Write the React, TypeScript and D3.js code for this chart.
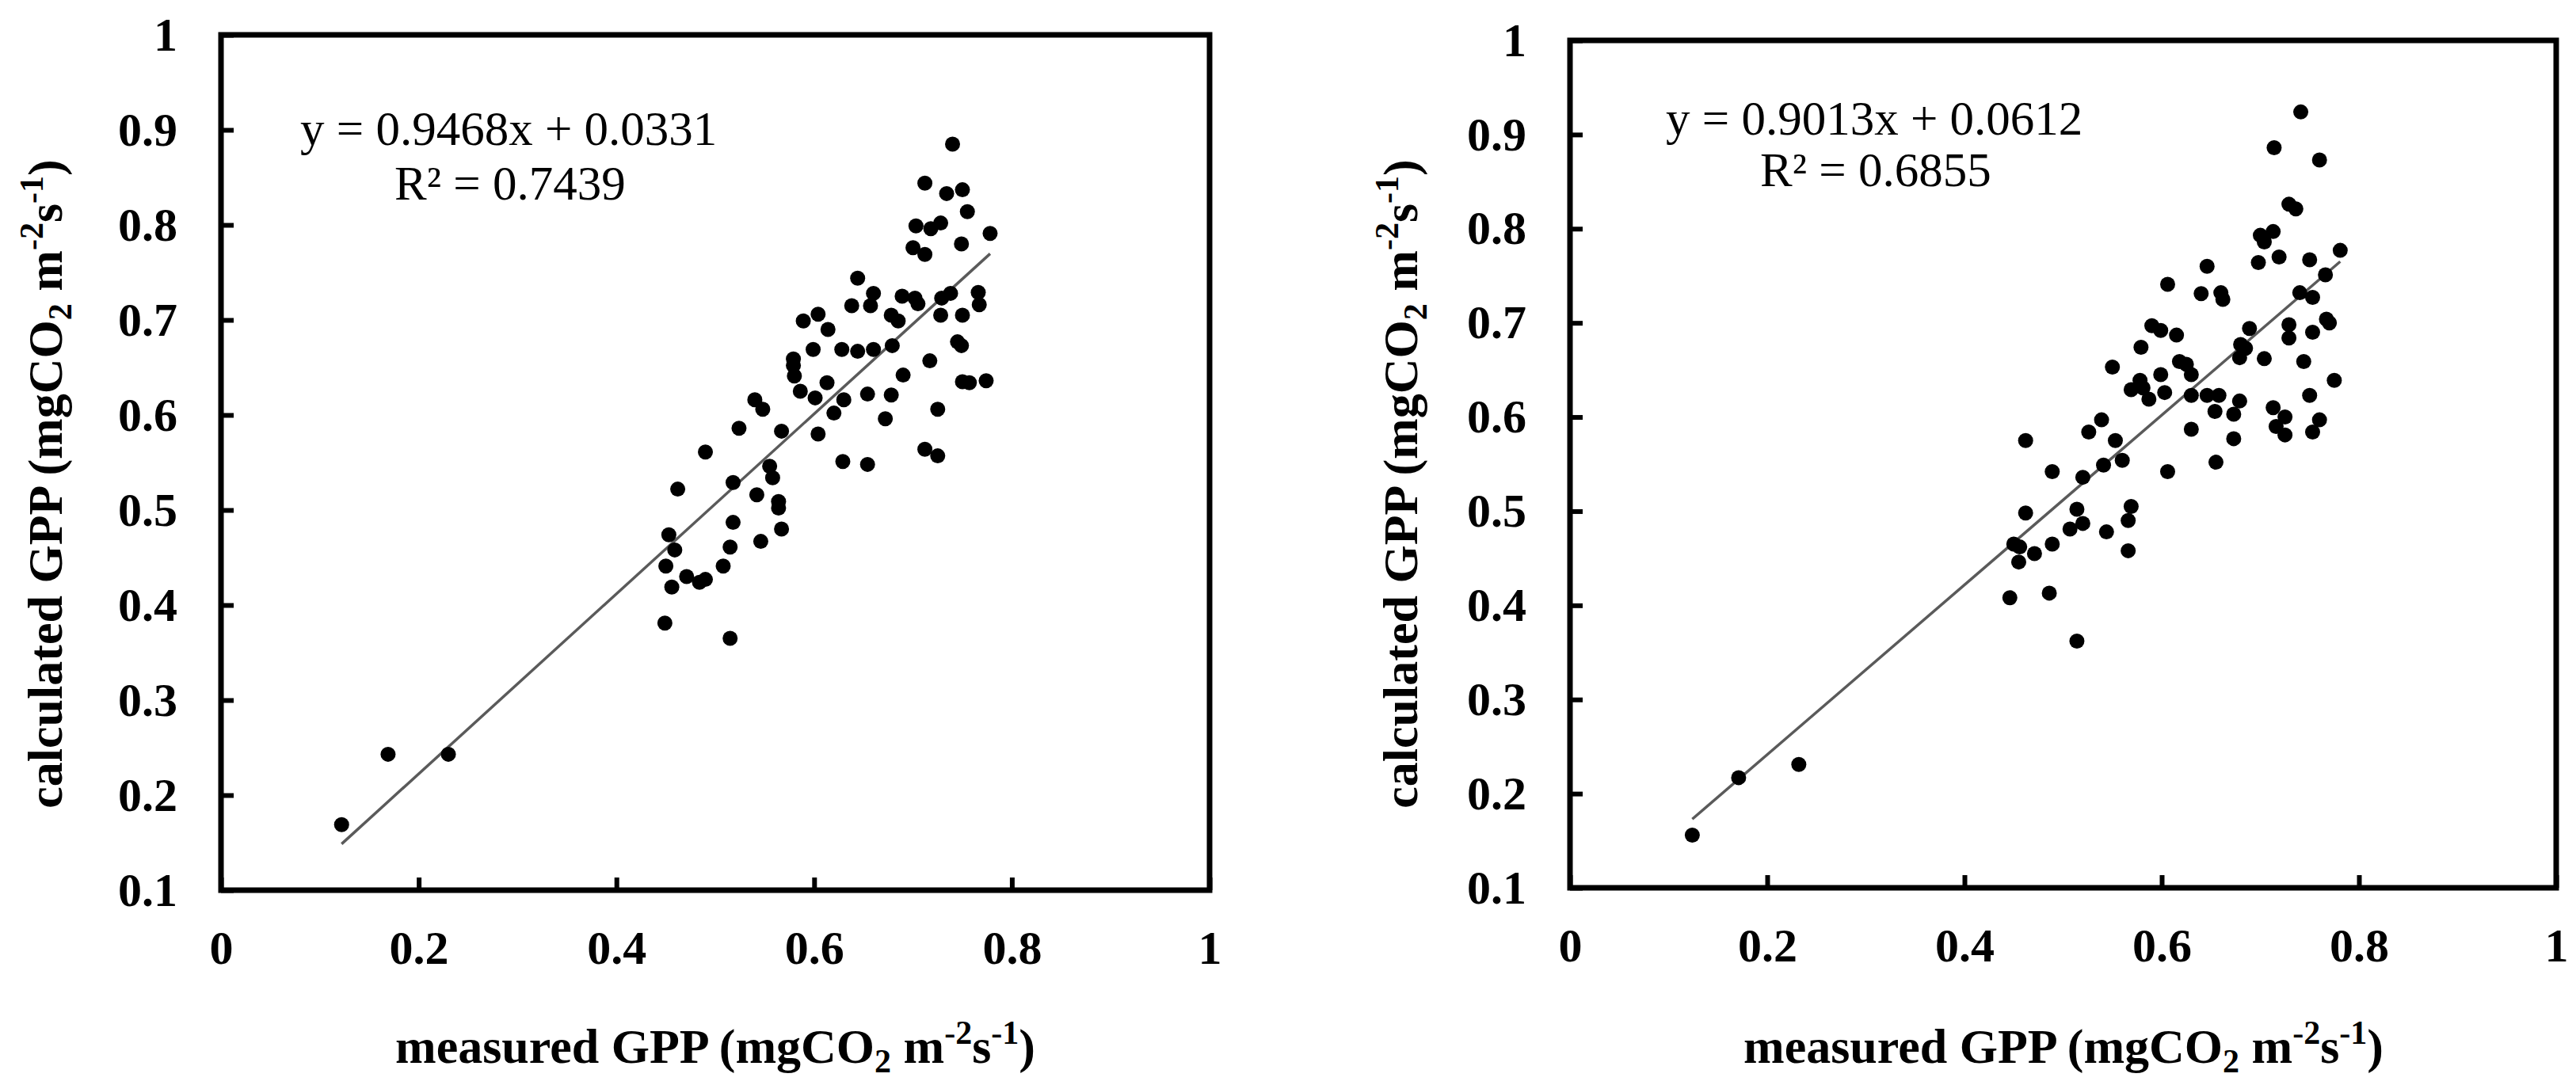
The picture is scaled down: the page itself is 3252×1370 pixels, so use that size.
import { useEffect, useRef } from 'react';
import * as d3 from 'd3';

// measured GPP vs calculated GPP (mgCO2 m-2 s-1)
const leftPoints: [number, number][] = [
  [0.122, 0.169], [0.169, 0.243], [0.23, 0.243], [0.449, 0.381], [0.515, 0.365],
  [0.45, 0.441], [0.453, 0.474], [0.459, 0.458], [0.456, 0.419], [0.462, 0.522],
  [0.471, 0.43], [0.484, 0.424], [0.49, 0.427], [0.49, 0.561], [0.508, 0.441],
  [0.515, 0.461], [0.518, 0.487], [0.518, 0.529], [0.524, 0.586], [0.542, 0.516],
  [0.546, 0.467], [0.54, 0.616], [0.548, 0.606], [0.555, 0.546], [0.558, 0.534],
  [0.564, 0.509], [0.564, 0.502], [0.567, 0.48], [0.567, 0.583], [0.579, 0.659],
  [0.579, 0.652], [0.58, 0.641], [0.586, 0.625], [0.589, 0.699], [0.599, 0.669],
  [0.601, 0.618], [0.604, 0.706], [0.604, 0.58], [0.613, 0.634], [0.614, 0.69],
  [0.62, 0.602], [0.628, 0.669], [0.63, 0.616], [0.629, 0.551], [0.638, 0.715],
  [0.644, 0.744], [0.644, 0.667], [0.654, 0.622], [0.654, 0.548], [0.657, 0.715],
  [0.66, 0.728], [0.66, 0.669], [0.672, 0.596], [0.678, 0.621], [0.679, 0.673],
  [0.678, 0.705], [0.685, 0.699], [0.69, 0.642], [0.689, 0.725], [0.702, 0.723],
  [0.7, 0.776], [0.703, 0.799], [0.705, 0.717], [0.712, 0.844], [0.712, 0.769],
  [0.712, 0.564], [0.717, 0.657], [0.718, 0.796], [0.725, 0.557], [0.725, 0.606],
  [0.728, 0.802], [0.728, 0.705], [0.729, 0.723], [0.734, 0.833], [0.738, 0.728],
  [0.74, 0.885], [0.745, 0.677], [0.749, 0.673], [0.749, 0.78], [0.75, 0.837],
  [0.75, 0.705], [0.75, 0.635], [0.755, 0.814], [0.757, 0.634], [0.766, 0.729],
  [0.767, 0.716], [0.774, 0.636], [0.778, 0.791],
];

const rightPoints: [number, number][] = [
  [0.124, 0.156], [0.171, 0.217], [0.232, 0.231], [0.446, 0.408], [0.514, 0.362],
  [0.462, 0.575], [0.45, 0.465], [0.456, 0.462], [0.455, 0.446], [0.462, 0.498],
  [0.471, 0.455], [0.486, 0.413], [0.489, 0.465], [0.489, 0.542], [0.507, 0.481],
  [0.514, 0.502], [0.52, 0.487], [0.52, 0.536], [0.526, 0.584], [0.539, 0.597],
  [0.541, 0.549], [0.544, 0.478], [0.55, 0.653], [0.553, 0.575], [0.56, 0.554],
  [0.566, 0.458], [0.566, 0.49], [0.569, 0.505], [0.569, 0.629], [0.579, 0.674],
  [0.578, 0.639], [0.581, 0.631], [0.587, 0.619], [0.59, 0.697], [0.599, 0.692],
  [0.599, 0.645], [0.603, 0.626], [0.606, 0.741], [0.606, 0.542], [0.615, 0.687],
  [0.618, 0.659], [0.625, 0.656], [0.63, 0.645], [0.63, 0.623], [0.63, 0.587],
  [0.64, 0.731], [0.646, 0.76], [0.646, 0.623], [0.654, 0.606], [0.655, 0.552],
  [0.66, 0.732], [0.662, 0.725], [0.658, 0.623], [0.673, 0.603], [0.673, 0.577],
  [0.68, 0.677], [0.679, 0.617], [0.679, 0.663], [0.685, 0.673], [0.689, 0.694],
  [0.698, 0.764], [0.7, 0.793], [0.704, 0.786], [0.704, 0.662], [0.713, 0.797],
  [0.713, 0.61], [0.714, 0.886], [0.716, 0.59], [0.719, 0.77], [0.725, 0.581],
  [0.729, 0.826], [0.736, 0.821], [0.729, 0.684], [0.725, 0.6], [0.729, 0.698],
  [0.741, 0.924], [0.74, 0.732], [0.744, 0.659], [0.75, 0.767], [0.75, 0.623],
  [0.753, 0.69], [0.753, 0.727], [0.753, 0.584], [0.76, 0.597], [0.76, 0.873],
  [0.766, 0.751], [0.767, 0.704], [0.77, 0.7], [0.775, 0.639], [0.781, 0.777],
];

const fits = [
  { slope: 0.9468, intercept: 0.0331, eq: 'y = 0.9468x + 0.0331', r2: 'R² = 0.7439' },
  { slope: 0.9013, intercept: 0.0612, eq: 'y = 0.9013x + 0.0612', r2: 'R² = 0.6855' },
];

const xTicks = [0, 0.2, 0.4, 0.6, 0.8, 1];
const yTicks = [0.1, 0.2, 0.3, 0.4, 0.5, 0.6, 0.7, 0.8, 0.9, 1];

const W = 3252;
const H = 1370;
const FONT = '"Liberation Serif", "Times New Roman", serif';

const panels = [
  {
    points: leftPoints, fit: fits[0],
    box: { x0: 279, x1: 1527, y0: 44, y1: 1124 },
    eqPos: [379, 183], r2Pos: [498, 252], yTitleX: 78, xTitleX: 903,
  },
  {
    points: rightPoints, fit: fits[1],
    box: { x0: 1982, x1: 3227, y0: 51, y1: 1121 },
    eqPos: [2103, 170], r2Pos: [2222, 235], yTitleX: 1789, xTitleX: 2605,
  },
];

const App = () => {
  const ref = useRef<SVGSVGElement>(null);

  useEffect(() => {
    const svg = d3.select(ref.current);
    svg.selectAll('*').remove();
    svg.append('rect').attr('width', W).attr('height', H).attr('fill', '#fff');

    panels.forEach((p) => {
      const { box } = p;
      const x = d3.scaleLinear().domain([0, 1]).range([box.x0, box.x1]);
      const y = d3.scaleLinear().domain([0.1, 1]).range([box.y1, box.y0]);
      const g = svg.append('g');

      // y axis
      const yAxis = g.append('g')
        .attr('transform', `translate(${box.x0},0)`)
        .call(d3.axisLeft(y).tickValues(yTicks).tickSizeInner(-16).tickSizeOuter(0).tickPadding(55)
          .tickFormat((d: any) => (d === 1 ? '1' : d3.format('.1f')(d))));
      yAxis.select('.domain').remove();
      yAxis.selectAll('line').attr('stroke', '#000').attr('stroke-width', 6);
      yAxis.selectAll('text')
        .attr('font-family', FONT).attr('font-size', 60).attr('font-weight', 'bold').attr('fill', '#000');

      // x axis
      const xAxis = g.append('g')
        .attr('transform', `translate(0,${box.y1})`)
        .call(d3.axisBottom(x).tickValues(xTicks).tickSizeInner(-16).tickSizeOuter(0).tickPadding(50)
          .tickFormat((d: any) => (d === 0 || d === 1 ? String(d) : d3.format('.1f')(d))));
      xAxis.select('.domain').remove();
      xAxis.selectAll('line').attr('stroke', '#000').attr('stroke-width', 6);
      xAxis.selectAll('text')
        .attr('font-family', FONT).attr('font-size', 60).attr('font-weight', 'bold').attr('fill', '#000');

      // frame
      g.append('rect')
        .attr('x', box.x0).attr('y', box.y0)
        .attr('width', box.x1 - box.x0).attr('height', box.y1 - box.y0)
        .attr('fill', 'none').attr('stroke', '#000').attr('stroke-width', 7);

      // regression line over the data range
      const [xmin, xmax] = d3.extent(p.points, (d) => d[0]) as [number, number];
      const line = d3.line<number>().x((d) => x(d)).y((d) => y(p.fit.slope * d + p.fit.intercept));
      g.append('path')
        .attr('d', line([xmin, xmax]))
        .attr('stroke', '#5a5a5a').attr('stroke-width', 3.5).attr('fill', 'none');

      // points
      g.selectAll('circle.pt')
        .data(p.points)
        .enter()
        .append('circle')
        .attr('class', 'pt')
        .attr('cx', (d) => x(d[0]))
        .attr('cy', (d) => y(d[1]))
        .attr('r', 9.5)
        .attr('fill', '#000');

      // equation text
      g.append('text')
        .attr('x', p.eqPos[0]).attr('y', p.eqPos[1])
        .attr('font-family', FONT).attr('font-size', 61).attr('fill', '#000')
        .text(p.fit.eq);
      g.append('text')
        .attr('x', p.r2Pos[0]).attr('y', p.r2Pos[1])
        .attr('font-family', FONT).attr('font-size', 61).attr('fill', '#000')
        .text(p.fit.r2);

      // axis titles with sub/superscripts
      const addTitle = (t: d3.Selection<SVGTextElement, unknown, null, undefined>, lead: string) => {
        t.attr('font-family', FONT).attr('font-size', 62).attr('font-weight', 'bold').attr('fill', '#000');
        t.append('tspan').text(`${lead} (mgCO`);
        t.append('tspan').attr('font-size', 42).attr('dy', 12).text('2');
        t.append('tspan').attr('dy', -12).text(' m');
        t.append('tspan').attr('font-size', 42).attr('dy', -24).text('-2');
        t.append('tspan').attr('dy', 24).text('s');
        t.append('tspan').attr('font-size', 42).attr('dy', -24).text('-1');
        t.append('tspan').attr('dy', 24).text(')');
      };

      const xt = g.append('text')
        .attr('x', p.xTitleX).attr('y', 1342).attr('text-anchor', 'middle') as any;
      addTitle(xt, 'measured GPP');

      const yt = g.append('text')
        .attr('transform', `translate(${p.yTitleX},611) rotate(-90)`)
        .attr('text-anchor', 'middle') as any;
      addTitle(yt, 'calculated GPP');
    });
  }, []);

  return (
    <svg
      ref={ref}
      width={W}
      height={H}
      style={{ position: 'absolute', left: 0, top: 0, display: 'block' }}
    />
  );
};

export default App;
